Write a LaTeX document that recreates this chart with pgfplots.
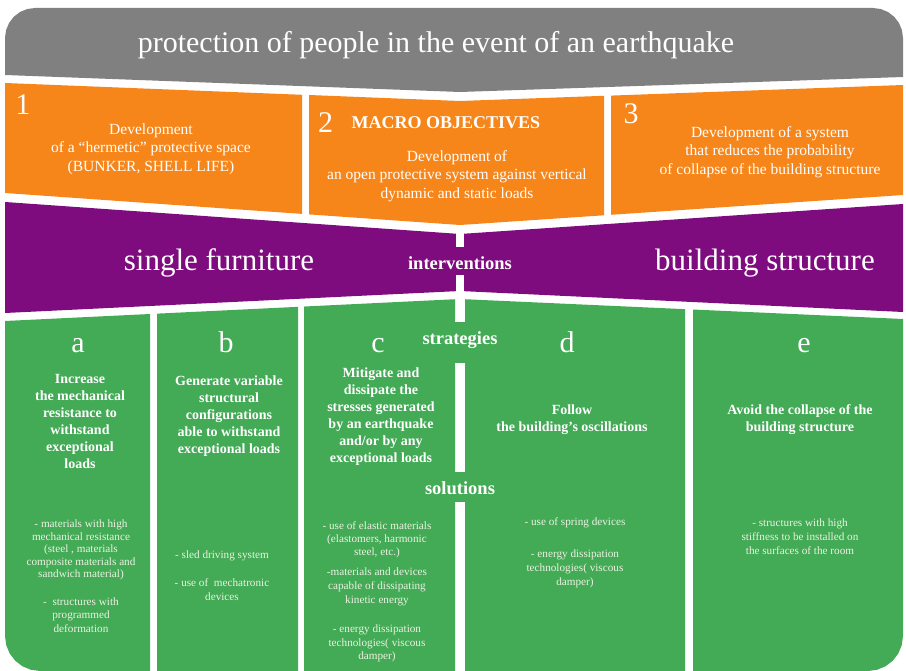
\documentclass[border=0pt]{standalone}
\usepackage{pgfplots}
\pgfplotsset{compat=1.18}
\usepackage{fontspec}
\setmainfont{Liberation Serif}
\definecolor{cgray}{RGB}{128,128,128}
\definecolor{corange}{RGB}{247,134,26}
\definecolor{cpurple}{RGB}{126,12,126}
\definecolor{cgreen}{RGB}{67,170,86}
\definecolor{csol}{RGB}{236,242,226}
\newcommand{\fs}[2]{\fontsize{#1}{#2}\selectfont}
\begin{document}
\begin{tikzpicture}
\begin{axis}[width=906pt,height=671pt,scale only axis,hide axis,
  xmin=0,xmax=906,ymin=0,ymax=671,y dir=reverse,clip=false,
  every axis plot/.append style={draw=none,mark=none}]
% grey band
\addplot[fill=cgray] coordinates {(5,75) (5,38) (6.02,30.24) (9.02,23) (13.79,16.79) (20,12.02) (27.24,9.02) (35,8)
  (873,8) (880.76,9.02) (888,12.02) (894.21,16.79) (898.98,23) (901.98,30.24) (903,38) (903,77) (460,92)} -- cycle;
% orange boxes
\addplot[fill=corange] coordinates {(5,83) (302,94.8) (302,213.9) (5,193)} -- cycle;
\addplot[fill=corange] coordinates {(309,95.0) (460,101) (604,95.8) (604,215.3) (460,225) (309,214.4)} -- cycle;
\addplot[fill=corange] coordinates {(611,95.6) (903,85) (903,195) (611,214.8)} -- cycle;
% purple band
\addplot[fill=cpurple] coordinates {(5,202) (460,234) (903,204) (903,312) (460,291) (5,313)} -- cycle;
% green boxes
\addplot[fill=cgreen] coordinates {(5,321) (150,314) (150,671) (40,671) (30.94,669.81) (22.5,666.31) (15.25,660.75) (9.69,653.5) (6.19,645.06) (5,636)} -- cycle;
\addplot[fill=cgreen] coordinates {(157,313.65) (298,306.83) (298,671) (157,671)} -- cycle;
\addplot[fill=cgreen] coordinates {(304,306.54) (455,299.24) (455,671) (304,671)} -- cycle;
\addplot[fill=cgreen] coordinates {(465,299.23) (685,309.16) (685,671) (465,671)} -- cycle;
\addplot[fill=cgreen] coordinates {(693,309.52) (903,319) (903,636) (901.81,645.06) (898.31,653.5) (892.75,660.75) (885.5,666.31) (877.06,669.81) (868,671) (693,671)} -- cycle;
% white divider in purple band
\addplot[fill=white] coordinates {(456,230) (464,230) (464,247) (456,247)} -- cycle;
\addplot[fill=white] coordinates {(456,275) (464,275) (464,300) (456,300)} -- cycle;
% green patches behind labels
\addplot[fill=cgreen] coordinates {(454,322) (466,322) (466,363) (454,363)} -- cycle;
\addplot[fill=cgreen] coordinates {(454,472) (466,472) (466,502) (454,502)} -- cycle;

% texts
\node[text=white,font=\fs{30}{36}] at (436,45) {protection of people in the event of an earthquake};
\node[text=white,font=\fs{30}{36},anchor=base] at (23,115) {1};
\node[text=white,font=\fs{30}{36},anchor=base] at (325.5,133) {2};
\node[text=white,font=\fs{30}{36},anchor=base] at (631,124) {3};
\node[text=white,font=\bfseries\fs{18}{22},anchor=base west] at (348,129) {MACRO OBJECTIVES};
\node[text=white,font=\fs{15.5}{18.5},align=center] at (151,149) {Development\\of a “hermetic” protective space\\(BUNKER, SHELL LIFE)};
\node[text=white,font=\fs{15.5}{18.5},align=center] at (457,176) {Development of\\an open protective system against vertical\\dynamic and static loads};
\node[text=white,font=\fs{15.5}{18.5},align=center] at (770,152) {Development of a system\\that reduces the probability\\of collapse of the building structure};

\node[text=white,font=\fs{31}{36}] at (219,263) {single furniture};
\node[text=white,font=\fs{31}{36}] at (765,263) {building structure};
\node[text=white,font=\bfseries\fs{18.5}{22}] at (460,263) {interventions};

\node[text=white,font=\fs{30}{36},anchor=base] at (78,353) {a};
\node[text=white,font=\fs{30}{36},anchor=base] at (226,353) {b};
\node[text=white,font=\fs{30}{36},anchor=base] at (378,353) {c};
\node[text=white,font=\fs{30}{36},anchor=base] at (567,353) {d};
\node[text=white,font=\fs{30}{36},anchor=base] at (804,353) {e};
\node[text=white,font=\bfseries\fs{18.5}{22}] at (460,340) {strategies};
\node[text=white,font=\bfseries\fs{18.5}{22}] at (460,488) {solutions};

\node[text=white,font=\bfseries\fs{14}{17},align=center] at (80,421) {Increase\\the mechanical\\resistance to\\withstand\\exceptional\\loads};
\node[text=white,font=\bfseries\fs{14}{17},align=center] at (229,416) {Generate variable\\structural\\configurations\\able to withstand\\exceptional loads};
\node[text=white,font=\bfseries\fs{14}{17},align=center] at (381,417) {Mitigate and\\dissipate the\\stresses generated\\by an earthquake\\and/or by any\\exceptional loads};
\node[text=white,font=\bfseries\fs{14}{17},align=center] at (572,420) {Follow\\the building's oscillations};
\node[text=white,font=\bfseries\fs{14}{17},align=center] at (800,420) {Avoid the collapse of the\\building structure};

\node[text=csol,font=\fs{11.2}{12.5},align=center] at (81,550) {- materials with high\\mechanical resistance\\(steel , materials\\composite materials and\\sandwich material)};
\node[text=csol,font=\fs{11.2}{13.5},align=center] at (81,615) {-\ \ structures with\\programmed\\deformation};
\node[text=csol,font=\fs{11.2}{13.5},align=center] at (222,556) {- sled driving system};
\node[text=csol,font=\fs{11.2}{14},align=center] at (222,590) {- use of\ \ mechatronic\\devices};
\node[text=csol,font=\fs{11.2}{13},align=center] at (377,540) {- use of elastic materials\\(elastomers, harmonic\\steel, etc.)};
\node[text=csol,font=\fs{11.2}{14},align=center] at (377,587) {-materials and devices\\capable of dissipating\\kinetic energy};
\node[text=csol,font=\fs{11.2}{13.5},align=center] at (377,643.5) {- energy dissipation\\technologies( viscous\\damper)};
\node[text=csol,font=\fs{11.2}{13.5},align=center] at (575,523) {- use of spring devices};
\node[text=csol,font=\fs{11.2}{14},align=center] at (575,569) {- energy dissipation\\technologies( viscous\\damper)};
\node[text=csol,font=\fs{11.2}{14},align=center] at (800,537) {- structures with high\\stiffness to be installed on\\the surfaces of the room};
\end{axis}
\pgfresetboundingbox
\path[use as bounding box] (current axis.south west) rectangle (current axis.north east);
\end{tikzpicture}
\end{document}
